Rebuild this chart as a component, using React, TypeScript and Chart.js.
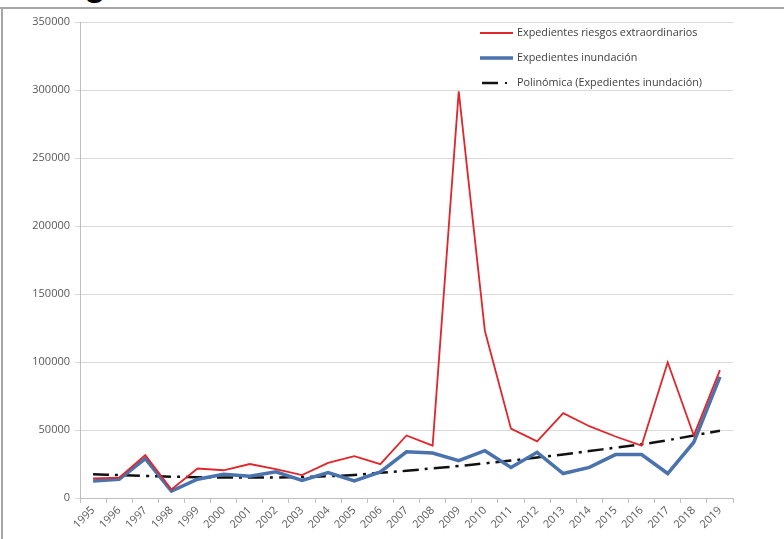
import React, { useEffect, useRef } from "react";
import { Chart, registerables } from "chart.js";

Chart.register(...registerables);

const years = [
  "1995", "1996", "1997", "1998", "1999", "2000", "2001", "2002", "2003", "2004",
  "2005", "2006", "2007", "2008", "2009", "2010", "2011", "2012", "2013", "2014",
  "2015", "2016", "2017", "2018", "2019",
];

const riesgosExtraordinarios = [
  14500, 15000, 31500, 6200, 21700, 20400, 25000, 21200, 16800, 25800,
  30800, 24900, 46000, 38500, 299000, 123000, 51000, 41700, 62400, 52800,
  45200, 38500, 99800, 46000, 94000,
];

const inundacion = [
  12500, 13800, 29000, 5000, 13800, 17500, 16000, 19200, 13000, 18700,
  12500, 19200, 34000, 33100, 27400, 34800, 22500, 33600, 18000, 22500,
  31900, 31900, 18000, 41000, 89000,
];

const polinomica = [
  17500, 16800, 16200, 15700, 15300, 15100, 15000, 15100, 15400, 16000,
  17000, 18500, 20000, 21800, 23500, 25500, 27500, 29800, 32000, 34500,
  37000, 39500, 42500, 46000, 49500,
];

const seriesLabels = [
  "Expedientes riesgos extraordinarios",
  "Expedientes inundación",
  "Polinómica (Expedientes inundación)",
];

const FONT = "'Open Sans', 'Liberation Sans', sans-serif";

const legendPlugin = {
  id: "insideLegend",
  afterDraw(chart: any) {
    const ctx = chart.ctx;
    const ds = chart.data.datasets;
    const x0 = 480;
    const x1 = 513;
    const rows = [33, 58, 83];
    ctx.save();
    ctx.font = `10.8px ${FONT}`;
    ctx.textBaseline = "middle";
    ds.forEach((d: any, i: number) => {
      const y = rows[i];
      ctx.strokeStyle = d.borderColor;
      ctx.lineWidth = d.borderWidth;
      ctx.setLineDash([]);
      ctx.beginPath();
      if (i === 2) {
        ctx.moveTo(x0 + 2, y);
        ctx.lineTo(x0 + 18, y);
        ctx.stroke();
        ctx.fillStyle = d.borderColor;
        ctx.fillRect(x0 + 25, y - 1, 2, 2);
      } else {
        ctx.moveTo(x0, y);
        ctx.lineTo(x1, y);
        ctx.stroke();
      }
      ctx.fillStyle = "#404040";
      ctx.fillText(d.label, x1 + 4, y);
    });
    ctx.restore();
  },
};

export default function App() {
  const ref = useRef<HTMLCanvasElement | null>(null);

  useEffect(() => {
    if (!ref.current) return;
    const chart = new Chart(ref.current, {
      type: "line",
      data: {
        labels: years,
        datasets: [
          {
            label: seriesLabels[0],
            data: riesgosExtraordinarios,
            borderColor: "#e0262b",
            borderWidth: 1.8,
            pointRadius: 0,
            tension: 0,
          },
          {
            label: seriesLabels[1],
            data: inundacion,
            borderColor: "#4a72ad",
            borderWidth: 3.5,
            pointRadius: 0,
            tension: 0,
          },
          {
            label: seriesLabels[2],
            data: polinomica,
            borderColor: "#111111",
            borderWidth: 2.5,
            borderDash: [16, 6, 3, 6],
            pointRadius: 0,
            tension: 0.4,
          },
        ],
      },
      options: {
        animation: false,
        responsive: false,
        maintainAspectRatio: false,
        layout: { padding: { left: 0, right: 51, top: 22, bottom: 0 } },
        plugins: {
          legend: { display: false },
          tooltip: { enabled: false },
        },
        scales: {
          x: {
            offset: true,
            afterFit(scale: any) {
              scale.height = 41;
            },
            grid: {
              display: true,
              offset: true,
              drawOnChartArea: false,
              drawTicks: true,
              tickLength: 5,
              color: "#bfbfbf",
            },
            border: { color: "#bfbfbf", width: 1 },
            ticks: {
              autoSkip: false,
              maxRotation: 45,
              minRotation: 45,
              padding: 1,
              color: "#595959",
              font: { family: FONT, size: 11 },
            },
          },
          y: {
            min: 0,
            max: 350000,
            afterFit(scale: any) {
              scale.width = 80;
            },
            grid: {
              color: "#d9d9d9",
              lineWidth: 1,
              tickLength: 5,
            },
            border: { color: "#bfbfbf", width: 1 },
            ticks: {
              stepSize: 50000,
              padding: 5,
              color: "#595959",
              font: { family: FONT, size: 11 },
              callback: (v: any) => String(v),
            },
          },
        },
      },
      plugins: [legendPlugin],
    });
    return () => chart.destroy();
  }, []);

  return (
    <div
      style={{
        position: "fixed",
        left: 0,
        top: 0,
        width: 784,
        height: 539,
        background: "#ffffff",
        overflow: "hidden",
      }}
    >
      <div
        style={{
          position: "absolute",
          left: 84,
          top: -35,
          fontFamily: "'Liberation Sans', sans-serif",
          fontWeight: "bold",
          fontSize: 36,
          lineHeight: "36px",
          color: "#000",
        }}
      >
        g
      </div>
      <div
        style={{
          position: "absolute",
          left: 0,
          top: 7,
          width: 784,
          height: 2,
          background: "#a6a6a6",
        }}
      />
      <div
        style={{
          position: "absolute",
          left: 1,
          top: 7,
          width: 2,
          height: 532,
          background: "#a6a6a6",
        }}
      />
      <canvas
        ref={ref}
        width={784}
        height={539}
        style={{ position: "absolute", left: 0, top: 0, width: 784, height: 539 }}
      />
    </div>
  );
}
